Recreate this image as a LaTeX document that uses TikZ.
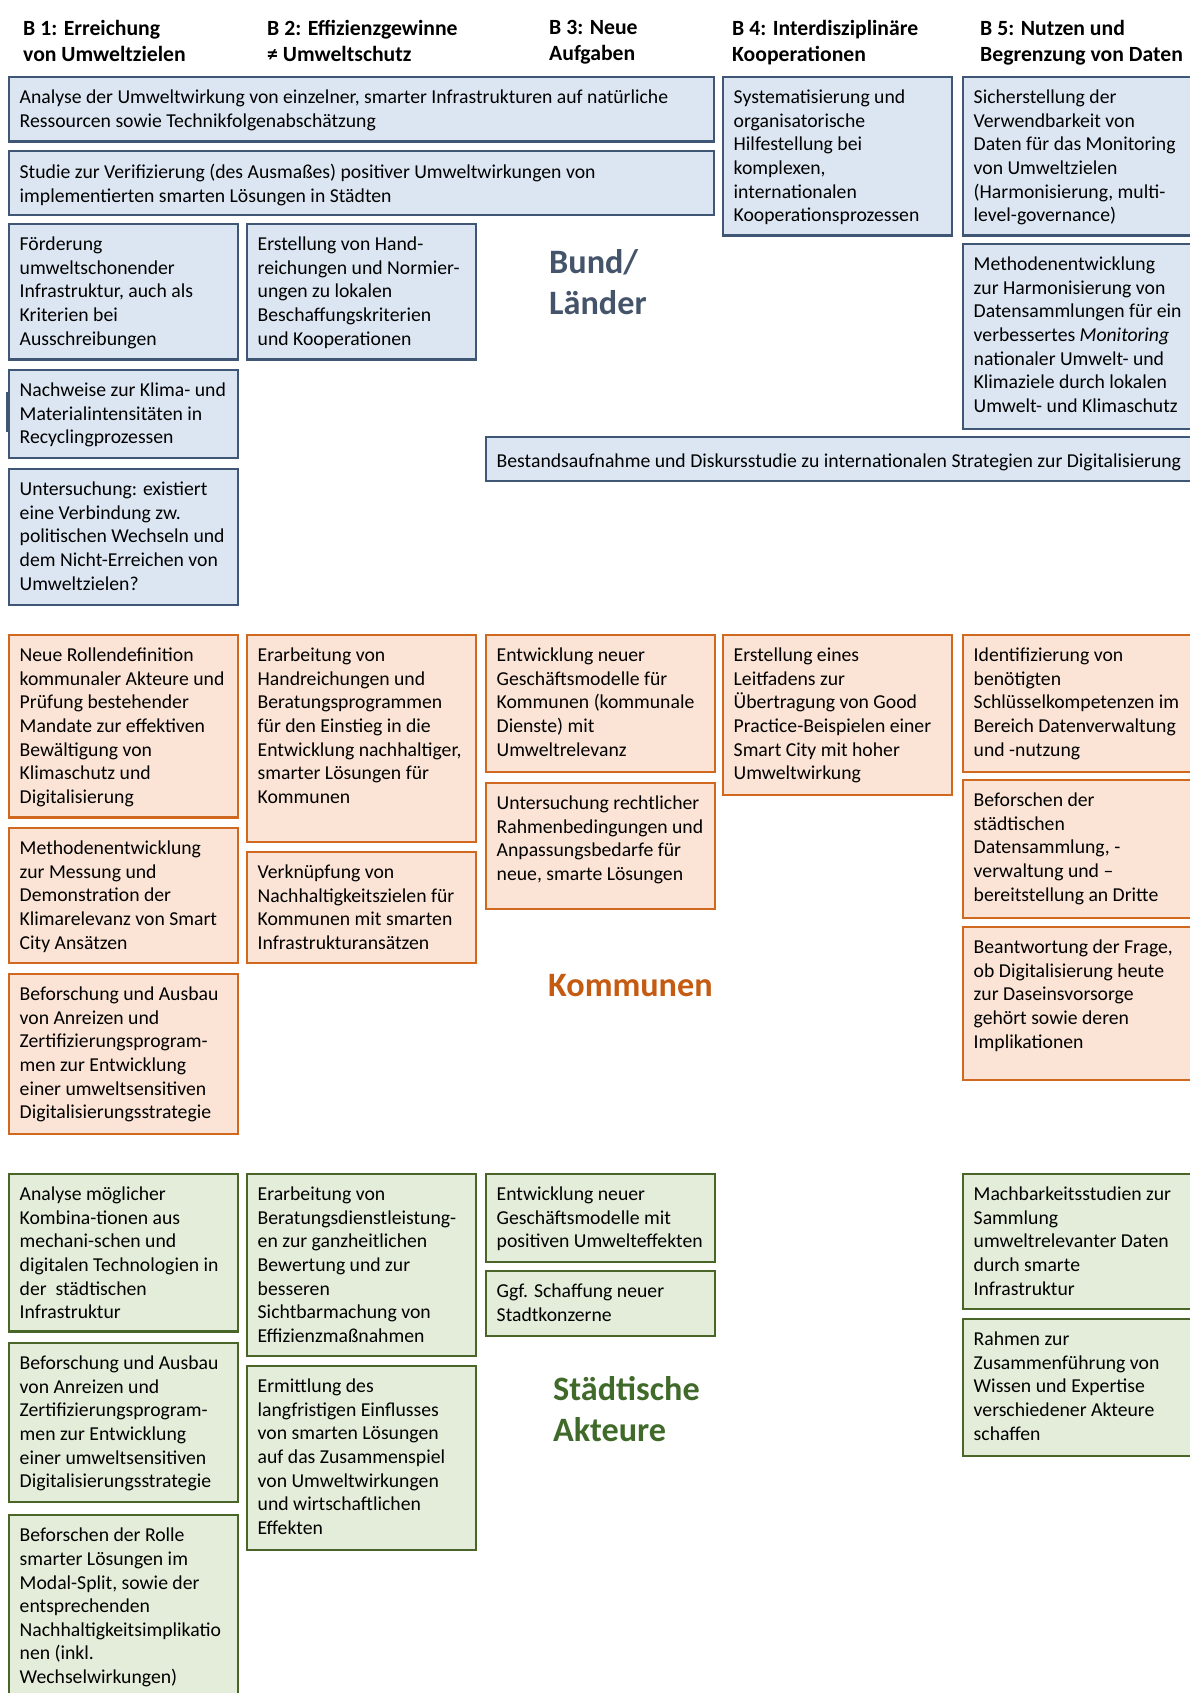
\documentclass[tikz,border=0pt]{standalone}
\usepackage{fontspec}
\setmainfont{Carlito}

\definecolor{blueFill}{HTML}{DCE6F2}
\definecolor{blueLine}{HTML}{3F5674}
\definecolor{orangeFill}{HTML}{FBE4D5}
\definecolor{orangeLine}{HTML}{D0691F}
\definecolor{greenFill}{HTML}{E3EDD9}
\definecolor{greenLine}{HTML}{4A6528}
\definecolor{bundText}{HTML}{44546A}
\definecolor{kommText}{HTML}{C55A11}
\definecolor{stadtText}{HTML}{406A2A}

\begin{document}
\begin{tikzpicture}
  [x=1pt, y=-1pt,
   box node/.style={draw, anchor=north west, minimum width=229pt, inner sep=0pt, outer sep=0pt, line width=2.2pt},
   blue node/.style={box node, draw=blueLine, fill=blueFill},
   orange node/.style={box node, draw=orangeLine, fill=orangeFill},
   green node/.style={box node, draw=greenLine, fill=greenFill},
   text node/.style={anchor=north west, align=left, inner sep=0pt, font=\fontsize{19.7pt}{23.55pt}\selectfont, execute at begin node=\rule{0pt}{17pt}},
   head node/.style={anchor=north west, align=left, inner sep=0pt, font=\bfseries\fontsize{21.7pt}{26pt}\selectfont, execute at begin node=\rule{0pt}{19pt}},
   level node/.style={anchor=north west, align=left, inner sep=0pt, font=\bfseries\fontsize{34.2pt}{41pt}\selectfont, execute at begin node=\rule{0pt}{30pt}}]
  \fill[white] (0,0) rectangle (1190,1693);
  \useasboundingbox (0,0) rectangle (1190,1693);
  \clip (0,0) rectangle (1190,1693);

  % column heads
  \node[head node] (h1) at (23,20.5) {B 1: Erreichung\\von Umweltzielen};
  \node[head node] (h2) at (267,20.5) {B 2: Effizienzgewinne\\≠ Umweltschutz};
  \node[head node] (h3) at (549,20.5) {B 3: Neue\\Aufgaben};
  \node[head node] (h4) at (732,20.5) {B 4: Interdisziplinäre\\Kooperationen};
  \node[head node] (h5) at (980,20.5) {B 5: Nutzen und\\Begrenzung von Daten};

  % Bund/Laender
  \node[blue node, minimum width=705pt, minimum height=64.5pt] (bund1) at (9,77) {};
  \node[blue node, minimum width=705pt, minimum height=64pt] (bund2) at (9,151) {};
  \node[blue node, minimum height=135.5pt] (bund3) at (9,224) {};
  \node[blue node, minimum height=135.5pt] (bund4) at (247,224) {};
  \node[blue node, minimum height=88pt] (bund5) at (9,370) {};
  \node[blue node, minimum height=136pt] (bund6) at (9,469) {};
  \node[blue node, minimum height=158.5pt] (bund7) at (723,77) {};
  \node[blue node, minimum width=232pt, minimum height=158.5pt] (bund8) at (963,77) {};
  \node[blue node, minimum width=232pt, minimum height=185pt] (bund9) at (963,244) {};
  \node[blue node, minimum width=712pt, minimum height=44pt] (bund10) at (486,437) {};
  \draw[blueLine, line width=2pt] (6.5,392) -- (6.5,432);

  \node[text node] (bund1t) at ([shift={(10.5,13)}]bund1.north west) {Analyse der Umweltwirkung von einzelner, smarter Infrastrukturen auf natürliche\\Ressourcen sowie Technikfolgenabschätzung};
  \node[text node] (bund2t) at ([shift={(10.5,13)}]bund2.north west) {Studie zur Verifizierung (des Ausmaßes) positiver Umweltwirkungen von\\implementierten smarten Lösungen in Städten};
  \node[text node] (bund3t) at ([shift={(10.5,13)}]bund3.north west) {Förderung\\umweltschonender\\Infrastruktur, auch als\\Kriterien bei\\Ausschreibungen};
  \node[text node] (bund4t) at ([shift={(10.5,13)}]bund4.north west) {Erstellung von Hand-\\reichungen und Normier-\\ungen zu lokalen\\Beschaffungskriterien\\und Kooperationen};
  \node[text node] (bund5t) at ([shift={(10.5,13)}]bund5.north west) {Nachweise zur Klima- und\\Materialintensitäten in\\Recyclingprozessen};
  \node[text node] (bund6t) at ([shift={(10.5,13)}]bund6.north west) {Untersuchung: existiert\\eine Verbindung zw.\\politischen Wechseln und\\dem Nicht-Erreichen von\\Umweltzielen?};
  \node[text node] (bund7t) at ([shift={(10.5,13)}]bund7.north west) {Systematisierung und\\organisatorische\\Hilfestellung bei\\komplexen,\\internationalen\\Kooperationsprozessen};
  \node[text node] (bund8t) at ([shift={(10.5,13)}]bund8.north west) {Sicherstellung der\\Verwendbarkeit von\\Daten für das Monitoring\\von Umweltzielen\\(Harmonisierung, multi-\\level-governance)};
  \node[text node] (bund9t) at ([shift={(10.5,13)}]bund9.north west) {Methodenentwicklung\\zur Harmonisierung von\\Datensammlungen für ein\\verbessertes \textit{Monitoring}\\nationaler Umwelt- und\\Klimaziele durch lokalen\\Umwelt- und Klimaschutz};
  \node[text node] (bund10t) at ([shift={(10.5,13.5)}]bund10.north west) {Bestandsaufnahme und Diskursstudie zu internationalen Strategien zur Digitalisierung};
  \node[level node, text=bundText] (bund) at (549,249.5) {Bund/\\Länder};

  % Kommunen
  \node[orange node, minimum height=182.5pt] (komm1) at (9,635) {};
  \node[orange node, minimum height=207pt] (komm2) at (247,635) {};
  \node[orange node, minimum height=137pt] (komm3) at (486,635) {};
  \node[orange node, minimum height=160pt] (komm4) at (723,635) {};
  \node[orange node, minimum width=232pt, minimum height=137pt] (komm5) at (963,635) {};
  \node[orange node, minimum height=135pt] (komm6) at (9,828) {};
  \node[orange node, minimum height=111pt] (komm7) at (247,852) {};
  \node[orange node, minimum height=126pt] (komm8) at (486,783) {};
  \node[orange node, minimum width=232pt, minimum height=138pt] (komm9) at (963,780) {};
  \node[orange node, minimum height=160pt] (komm10) at (9,974) {};
  \node[orange node, minimum width=232pt, minimum height=153pt] (komm11) at (963,927) {};

  \node[text node] (komm1t) at ([shift={(10.5,13)}]komm1.north west) {Neue Rollendefinition\\kommunaler Akteure und\\Prüfung bestehender\\Mandate zur effektiven\\Bewältigung von\\Klimaschutz und\\Digitalisierung};
  \node[text node] (komm2t) at ([shift={(10.5,13)}]komm2.north west) {Erarbeitung von\\Handreichungen und\\Beratungsprogrammen\\für den Einstieg in die\\Entwicklung nachhaltiger,\\smarter Lösungen für\\Kommunen};
  \node[text node] (komm3t) at ([shift={(10.5,13)}]komm3.north west) {Entwicklung neuer\\Geschäftsmodelle für\\Kommunen (kommunale\\Dienste) mit\\Umweltrelevanz};
  \node[text node] (komm4t) at ([shift={(10.5,13)}]komm4.north west) {Erstellung eines\\Leitfadens zur\\Übertragung von Good\\Practice-Beispielen einer\\Smart City mit hoher\\Umweltwirkung};
  \node[text node] (komm5t) at ([shift={(10.5,13)}]komm5.north west) {Identifizierung von\\benötigten\\Schlüsselkompetenzen im\\Bereich Datenverwaltung\\und -nutzung};
  \node[text node] (komm6t) at ([shift={(10.5,13)}]komm6.north west) {Methodenentwicklung\\zur Messung und\\Demonstration der\\Klimarelevanz von Smart\\City Ansätzen};
  \node[text node] (komm7t) at ([shift={(10.5,13)}]komm7.north west) {Verknüpfung von\\Nachhaltigkeitszielen für\\Kommunen mit smarten\\Infrastrukturansätzen};
  \node[text node] (komm8t) at ([shift={(10.5,13)}]komm8.north west) {Untersuchung rechtlicher\\Rahmenbedingungen und\\Anpassungsbedarfe für\\neue, smarte Lösungen};
  \node[text node] (komm9t) at ([shift={(10.5,13)}]komm9.north west) {Beforschen der\\städtischen\\Datensammlung, -\\verwaltung und --\\bereitstellung an Dritte};
  \node[text node] (komm10t) at ([shift={(10.5,13)}]komm10.north west) {Beforschung und Ausbau\\von Anreizen und\\Zertifizierungsprogram-\\men zur Entwicklung\\einer umweltsensitiven\\Digitalisierungsstrategie};
  \node[text node] (komm11t) at ([shift={(10.5,13)}]komm11.north west) {Beantwortung der Frage,\\ob Digitalisierung heute\\zur Daseinsvorsorge\\gehört sowie deren\\Implikationen};
  \node[level node, text=kommText] (komm) at (548,966) {Kommunen};

  % Staedtische Akteure
  \node[green node, minimum height=157.5pt] (stadt1) at (9,1174) {};
  \node[green node, minimum height=182pt] (stadt2) at (247,1174) {};
  \node[green node, minimum height=88pt] (stadt3) at (486,1174) {};
  \node[green node, minimum height=65pt] (stadt4) at (486,1271) {};
  \node[green node, minimum height=159pt] (stadt5) at (9,1343) {};
  \node[green node, minimum height=184pt] (stadt6) at (247,1366) {};
  \node[green node, minimum height=200pt] (stadt7) at (9,1515) {};
  \node[green node, minimum width=232pt, minimum height=135pt] (stadt8) at (963,1174) {};
  \node[green node, minimum width=232pt, minimum height=137pt] (stadt9) at (963,1319) {};

  \node[text node] (stadt1t) at ([shift={(10.5,13)}]stadt1.north west) {Analyse möglicher\\Kombina-tionen aus\\mechani-schen und\\digitalen Technologien in\\der\ \ städtischen\\Infrastruktur};
  \node[text node] (stadt2t) at ([shift={(10.5,13)}]stadt2.north west) {Erarbeitung von\\Beratungsdienstleistung-\\en zur ganzheitlichen\\Bewertung und zur\\besseren\\Sichtbarmachung von\\Effizienzmaßnahmen};
  \node[text node] (stadt3t) at ([shift={(10.5,13)}]stadt3.north west) {Entwicklung neuer\\Geschäftsmodelle mit\\positiven Umwelteffekten};
  \node[text node] (stadt4t) at ([shift={(10.5,13)}]stadt4.north west) {Ggf. Schaffung neuer\\Stadtkonzerne};
  \node[text node] (stadt5t) at ([shift={(10.5,13)}]stadt5.north west) {Beforschung und Ausbau\\von Anreizen und\\Zertifizierungsprogram-\\men zur Entwicklung\\einer umweltsensitiven\\Digitalisierungsstrategie};
  \node[text node] (stadt6t) at ([shift={(10.5,13)}]stadt6.north west) {Ermittlung des\\langfristigen Einflusses\\von smarten Lösungen\\auf das Zusammenspiel\\von Umweltwirkungen\\und wirtschaftlichen\\Effekten};
  \node[text node] (stadt7t) at ([shift={(10.5,13)}]stadt7.north west) {Beforschen der Rolle\\smarter Lösungen im\\Modal-Split, sowie der\\entsprechenden\\Nachhaltigkeitsimplikatio\\nen (inkl.\\Wechselwirkungen)};
  \node[text node] (stadt8t) at ([shift={(10.5,13)}]stadt8.north west) {Machbarkeitsstudien zur\\Sammlung\\umweltrelevanter Daten\\durch smarte\\Infrastruktur};
  \node[text node] (stadt9t) at ([shift={(10.5,13)}]stadt9.north west) {Rahmen zur\\Zusammenführung von\\Wissen und Expertise\\verschiedener Akteure\\schaffen};
  \node[level node, text=stadtText] (stadt) at (553,1376.5) {Städtische\\Akteure};
\end{tikzpicture}
\end{document}
